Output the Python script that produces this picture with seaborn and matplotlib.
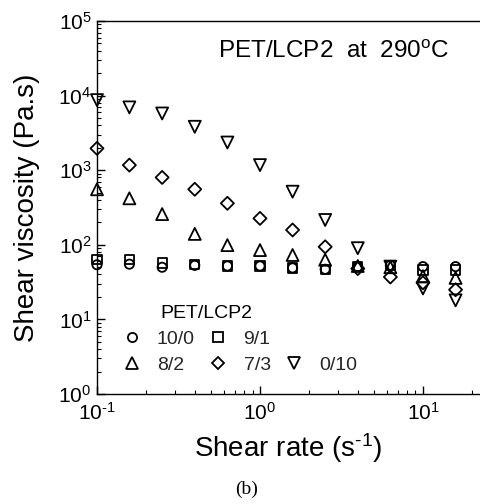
import numpy as np
import pandas as pd
import seaborn as sns
import matplotlib
matplotlib.use("Agg")
import matplotlib.pyplot as plt
from matplotlib.lines import Line2D
from matplotlib.markers import MarkerStyle
from matplotlib.transforms import Affine2D
from matplotlib.ticker import LogLocator, NullFormatter, FuncFormatter

# Shear rate (1/s) and viscosity (Pa.s) for each PET/LCP2 blend ratio
shear_rate = [0.1, 0.158, 0.251, 0.398, 0.631, 1.0, 1.585, 2.512, 3.981, 6.31, 10.0, 15.85]
visc_10_0 = [54, 55, 50, 53, 52, 52, 49, 47, 51, 53, 51, 51]
visc_9_1 = [63, 64, 57, 54, 52, 52, 49, 47, 51, 53, 46, 46]
visc_8_2 = [555, 420, 258, 140, 99, 85, 73, 63, 52, 50, 38, 36]
visc_7_3 = [1960, 1170, 800, 555, 360, 226, 158, 94, 48, 37, 31, 25]
visc_0_10 = [8700, 6950, 5760, 3820, 2350, 1170, 515, 215, 90, 51, 26, 18]
blends = ["10/0", "9/1", "8/2", "7/3", "0/10"]

sns.set_theme(style="white")
plt.rcParams["font.family"] = ["Liberation Sans", "DejaVu Sans"]
plt.rcParams["mathtext.fontset"] = "custom"
plt.rcParams["mathtext.rm"] = "Liberation Sans"
plt.rcParams["mathtext.it"] = "Liberation Sans:italic"
plt.rcParams["mathtext.bf"] = "Liberation Sans:bold"
plt.rcParams["axes.unicode_minus"] = False

frames = []
for name, vals in zip(blends, [visc_10_0, visc_9_1, visc_8_2, visc_7_3, visc_0_10]):
    frames.append(pd.DataFrame({"rate": shear_rate, "visc": vals, "blend": name}))
df = pd.concat(frames, ignore_index=True)

tri_scale = Affine2D().scale(1.3)
markers = {
    "10/0": "o",
    "9/1": "s",
    "8/2": MarkerStyle("^", transform=tri_scale),
    "7/3": "D",
    "0/10": MarkerStyle("v", transform=tri_scale),
}

fig = plt.figure(figsize=(4.8, 5.04), dpi=100)
ax = fig.add_axes([97 / 480, 1 - 394 / 504, 383 / 480, (394 - 21) / 504])

sns.scatterplot(data=df, x="rate", y="visc", style="blend", markers=markers,
                style_order=blends, color="black", s=44, legend=False, ax=ax,
                zorder=3, clip_on=False)
for coll in ax.collections:
    coll.set_facecolor("none")
    coll.set_edgecolor("black")
    coll.set_linewidth(1.3)

ax.set_xscale("log")
ax.set_yscale("log")
ax.set_xlim(0.1, 10 ** 1.35)
ax.set_ylim(1, 1e5)

for side in ["left", "bottom", "top"]:
    ax.spines[side].set_color("black")
    ax.spines[side].set_linewidth(1.0)
ax.spines["right"].set_visible(False)


def decade_label(v, pos):
    e = int(round(np.log10(v)))
    exp = r"\text{-}" + str(-e) if e < 0 else str(e)
    return r"$\mathdefault{10^{" + exp + "}}$"


ax.xaxis.set_major_locator(LogLocator(base=10, numticks=10))
ax.xaxis.set_minor_locator(LogLocator(base=10, subs=np.arange(2, 10), numticks=20))
ax.yaxis.set_major_locator(LogLocator(base=10, numticks=10))
ax.yaxis.set_minor_locator(LogLocator(base=10, subs=np.arange(2, 10), numticks=20))
ax.xaxis.set_major_formatter(FuncFormatter(decade_label))
ax.yaxis.set_major_formatter(FuncFormatter(decade_label))
ax.xaxis.set_minor_formatter(NullFormatter())
ax.yaxis.set_minor_formatter(NullFormatter())
ax.tick_params(which="major", direction="in", length=6, width=1.0, labelsize=15,
               color="black", labelcolor="black", left=True, bottom=True)
ax.tick_params(which="minor", direction="in", length=3, width=0.8,
               color="black", left=True, bottom=True)
ax.tick_params(axis="x", pad=6)
ax.tick_params(axis="y", pad=4)

ax.set_xlabel(r"Shear rate (s$^{\text{-}1}$)", fontsize=20, color="black", labelpad=5)
ax.set_ylabel("Shear viscosity (Pa.s)", fontsize=20, color="black", labelpad=13)

ax.text(218, 504 - 52, "PET/LCP2  at  290$^{\\rm o}$C", transform=None,
        fontsize=17.5, color="black", va="center", ha="left")

# Blend legend
ax.text(160, 504 - 314, "PET/LCP2", transform=None, fontsize=14,
        color="black", va="center", ha="left")
handles = []
for name in ["10/0", "8/2", "9/1", "7/3", None, "0/10"]:
    if name is None:
        handles.append(Line2D([], [], linestyle="", marker=None))
    else:
        handles.append(Line2D([], [], linestyle="", marker=markers[name],
                              markersize=6.6, markerfacecolor="none",
                              markeredgecolor="black", markeredgewidth=1.3))
labels = ["10/0", "8/2", "9/1", "7/3", "", "0/10"]
leg = ax.legend(handles, labels, ncol=3, frameon=False, fontsize=14,
                loc="upper left", bbox_to_anchor=(120 / 480, 1 - 330 / 504),
                bbox_transform=fig.transFigure, handlelength=1.2,
                handletextpad=0.7, columnspacing=0.6, labelspacing=0.45,
                borderpad=0, borderaxespad=0)

fig.text(247 / 480, 1 - 489 / 504, "(b)", fontsize=14, color="black",
         family="Liberation Serif", ha="center", va="center")

fig.savefig("out.png", dpi=100, facecolor="white")
